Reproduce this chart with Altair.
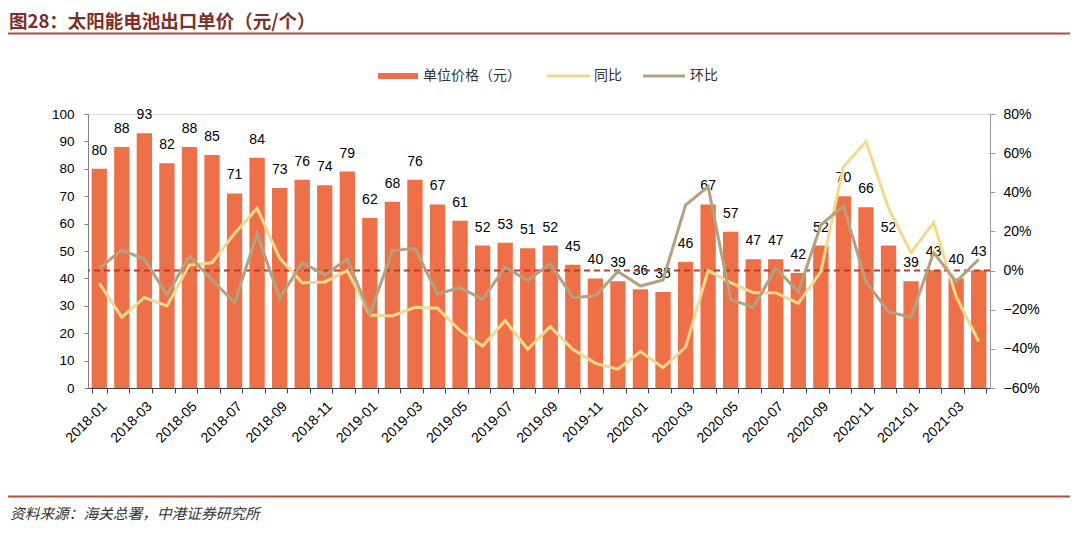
import altair as alt
import pandas as pd

months = ["2018-01", "2018-02", "2018-03", "2018-04", "2018-05", "2018-06",
          "2018-07", "2018-08", "2018-09", "2018-10", "2018-11", "2018-12",
          "2019-01", "2019-02", "2019-03", "2019-04", "2019-05", "2019-06",
          "2019-07", "2019-08", "2019-09", "2019-10", "2019-11", "2019-12",
          "2020-01", "2020-02", "2020-03", "2020-04", "2020-05", "2020-06",
          "2020-07", "2020-08", "2020-09", "2020-10", "2020-11", "2020-12",
          "2021-01", "2021-02", "2021-03", "2021-04"]

price = [80, 88, 93, 82, 88, 85, 71, 84, 73, 76, 74, 79,
         62, 68, 76, 67, 61, 52, 53, 51, 52, 45, 40, 39,
         36, 35, 46, 67, 57, 47, 47, 42, 52, 70, 66, 52,
         39, 43, 40, 43]

yoy = [-0.065, -0.239, -0.138, -0.181, 0.029, 0.040, 0.19, 0.318, 0.063, -0.062, -0.058, 0.0,
       -0.227, -0.232, -0.188, -0.193, -0.307, -0.385, -0.256, -0.402, -0.287, -0.402, -0.474, -0.504,
       -0.414, -0.496, -0.392, 0.0, -0.062, -0.113, -0.113, -0.167, -0.005, 0.53, 0.659, 0.318,
       0.092, 0.245, -0.133, -0.363]

mom = [0.012, 0.105, 0.058, -0.125, 0.075, -0.048, -0.164, 0.187, -0.142, 0.040, -0.022, 0.059,
       -0.223, 0.102, 0.114, -0.120, -0.087, -0.147, 0.017, -0.051, 0.034, -0.137, -0.130, -0.005,
       -0.079, -0.048, 0.335, 0.429, -0.147, -0.188, 0.012, -0.108, 0.233, 0.330, -0.057, -0.210,
       -0.239, 0.092, -0.057, 0.058]

series_names = ["同比", "环比"]
series_colors = ["#F2D98B", "#B3A17F"]
bar_color = "#EE7049"

df = pd.DataFrame({"month": months, "price": price})
lines_df = pd.DataFrame({
    "month": months + months,
    "series": [series_names[0]] * len(months) + [series_names[1]] * len(months),
    "val": yoy + mom,
})

W, H = 902, 274
NUM_FONT = "Liberation Sans"
CJK_FONT = "Noto Sans CJK SC"

xenc = alt.X(
    "month:N",
    scale=alt.Scale(domain=months, paddingInner=0.32, paddingOuter=0.16),
    axis=alt.Axis(
        title=None, labelAngle=-45, labelFontSize=14, labelFont=NUM_FONT,
        labelColor="#000000", labelOverlap=False, tickBand="extent",
        tickSize=5, tickColor="#404040", domainColor="#404040", labelPadding=6,
        labelExpr="toNumber(substring(datum.value, 5, 7)) % 2 == 1 ? datum.value : ''",
    ),
)

left_scale = alt.Scale(domain=[0, 100], nice=False)
right_scale = alt.Scale(domain=[-0.6, 0.8], nice=False)

left_axis = alt.Axis(title=None, orient="left", values=list(range(0, 101, 10)),
                     grid=False, tickSize=4, labelPadding=10, labelFontSize=13.5,
                     labelFont=NUM_FONT, labelColor="#000000",
                     domainColor="#808080", tickColor="#808080")
right_axis = alt.Axis(title=None, orient="right", format=".0%",
                      values=[-0.6, -0.4, -0.2, 0, 0.2, 0.4, 0.6, 0.8],
                      grid=False, tickSize=5, labelPadding=8, labelFontSize=14,
                      labelFont=NUM_FONT, labelColor="#000000",
                      domainColor="#999999", tickColor="#999999")

bars = alt.Chart(df).mark_bar(color=bar_color).encode(
    x=xenc,
    y=alt.Y("price:Q", scale=left_scale, axis=left_axis),
)

labels = alt.Chart(df).mark_text(
    baseline="bottom", dy=-11, fontSize=14, font=NUM_FONT, color="#000000"
).encode(
    x=xenc,
    y=alt.Y("price:Q", scale=left_scale, axis=left_axis),
    text=alt.Text("price:Q"),
)

left_layer = alt.layer(bars, labels)

zero_rule = alt.Chart(alt.Data(values=[{"v": 0}])).mark_rule(
    color="#C0392B", strokeDash=[6, 4], strokeWidth=2
).encode(y=alt.Y("v:Q", scale=right_scale, axis=right_axis))

lines = alt.Chart(lines_df).mark_line(strokeWidth=3).encode(
    x=xenc,
    y=alt.Y("val:Q", scale=right_scale, axis=right_axis),
    color=alt.Color("series:N", scale=alt.Scale(domain=series_names, range=series_colors),
                    legend=None),
)

right_layer = alt.layer(zero_rule, lines)

one = alt.Data(values=[{}])

title_text = alt.Chart(one).mark_text(
    text="图28：太阳能电池出口单价（元/个）", align="left", baseline="alphabetic",
    fontSize=18.5, fontWeight="bold", font=CJK_FONT, color="#7F2F27"
).encode(x=alt.value(-79), y=alt.value(-86))

top_line = alt.Chart(one).mark_rule(color="#B94A3A", strokeWidth=2).encode(
    x=alt.value(-80), x2=alt.value(982), y=alt.value(-80.5))

bottom_line = alt.Chart(one).mark_rule(color="#B94A3A", strokeWidth=2).encode(
    x=alt.value(-80), x2=alt.value(982), y=alt.value(382.5))

footer = alt.Chart(one).mark_text(
    text="资料来源：海关总署，中港证券研究所", align="left", baseline="alphabetic",
    fontSize=14.7, fontStyle="italic", font=CJK_FONT, color="#333333"
).encode(x=alt.value(-78), y=alt.value(405))

leg_rect = alt.Chart(one).mark_rect(color=bar_color).encode(
    x=alt.value(290), x2=alt.value(330), y=alt.value(-41), y2=alt.value(-35))
leg_t1 = alt.Chart(one).mark_text(
    text="单位价格（元）", align="left", baseline="middle", fontSize=14,
    font=CJK_FONT, color="#333333").encode(x=alt.value(335), y=alt.value(-38))
leg_l2 = alt.Chart(one).mark_rule(color=series_colors[0], strokeWidth=3).encode(
    x=alt.value(459), x2=alt.value(502), y=alt.value(-38))
leg_t2 = alt.Chart(one).mark_text(
    text="同比", align="left", baseline="middle", fontSize=14,
    font=CJK_FONT, color="#333333").encode(x=alt.value(506), y=alt.value(-38))
leg_l3 = alt.Chart(one).mark_rule(color=series_colors[1], strokeWidth=3).encode(
    x=alt.value(555), x2=alt.value(597), y=alt.value(-38))
leg_t3 = alt.Chart(one).mark_text(
    text="环比", align="left", baseline="middle", fontSize=14,
    font=CJK_FONT, color="#333333").encode(x=alt.value(602), y=alt.value(-38))

deco = alt.layer(title_text, top_line, bottom_line, footer,
                 leg_rect, leg_t1, leg_l2, leg_t2, leg_l3, leg_t3)

chart = alt.layer(left_layer, right_layer, deco).resolve_scale(
    y="independent"
).properties(
    width=W, height=H,
    autosize=alt.AutoSizeParams(type="none"),
    padding={"left": 80, "top": 106, "right": 82, "bottom": 137},
).configure_view(stroke=None).configure(background="white")

chart.save("out.html", embed_options={"renderer": "svg", "actions": False})
